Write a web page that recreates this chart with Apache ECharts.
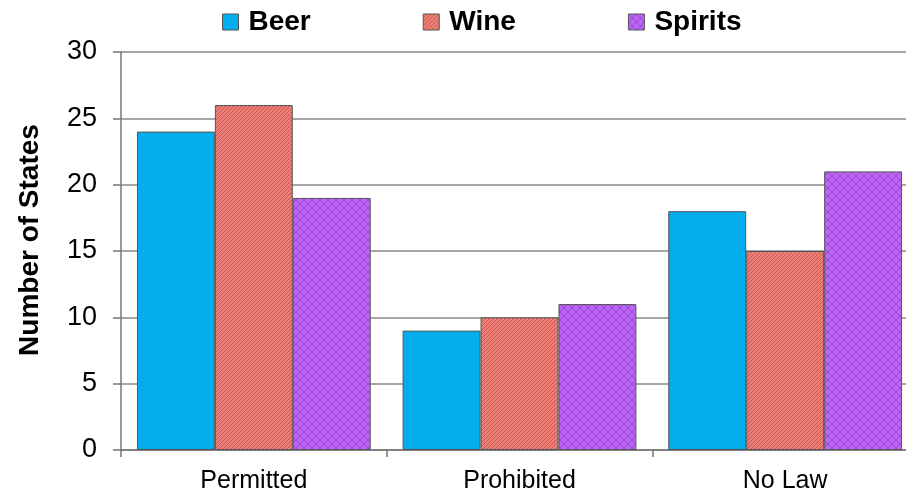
<!DOCTYPE html>
<html lang="en">
<head>
<meta charset="UTF-8">
<title>Number of States</title>
<script src="https://cdn.jsdelivr.net/npm/echarts@6/dist/echarts.min.js"></script>
<style>
  html, body { margin: 0; padding: 0; background: #fff; }
  #chart { width: 906px; height: 493px; }
</style>
</head>
<body>
<div id="chart"></div>
<script>
var categories = ['Permitted', 'Prohibited', 'No Law'];
var seriesNames = ['Beer', 'Wine', 'Spirits'];
var beer = [24, 9, 18];
var wine = [26, 10, 15];
var spirits = [19, 11, 21];
var yTicks = [0, 5, 10, 15, 20, 25, 30];

// small canvas tiles for the fill patterns
function makeTile(kind) {
    var c = document.createElement('canvas');
    var ctx = c.getContext('2d');
    if (kind == 'dots') {
        c.width = 4; c.height = 4;
        ctx.fillStyle = '#00b0f0';
        ctx.fillRect(0, 0, 4, 4);
        ctx.fillStyle = '#0aa0dc';
        ctx.fillRect(0, 0, 1, 1);
        ctx.fillRect(2, 2, 1, 1);
    } else if (kind == 'diag') {
        c.width = 4; c.height = 4;
        ctx.fillStyle = '#ec8078';
        ctx.fillRect(0, 0, 4, 4);
        ctx.fillStyle = '#c9574f';
        for (var i = 0; i < 4; i++) {
            ctx.fillRect(i, 3 - i, 1, 1);
        }
    } else {
        c.width = 8; c.height = 8;
        ctx.fillStyle = '#bb66f2';
        ctx.fillRect(0, 0, 8, 8);
        ctx.fillStyle = '#9c44d6';
        for (var j = 0; j < 8; j++) {
            ctx.fillRect(j, j, 1, 1);
            ctx.fillRect(j, 7 - j, 1, 1);
        }
    }
    return c;
}

var fills = [
    { image: makeTile('dots'), repeat: 'repeat' },
    { image: makeTile('diag'), repeat: 'repeat' },
    { image: makeTile('cross'), repeat: 'repeat' }
];
var values = [beer, wine, spirits];

var chart = echarts.init(document.getElementById('chart'));

var series = [];
for (var k = 0; k < seriesNames.length; k++) {
    series.push({
        name: seriesNames[k],
        type: 'bar',
        data: values[k],
        barGap: '0%',
        barCategoryGap: '12%',
        itemStyle: { color: fills[k], borderColor: '#555', borderWidth: 1 },
        emphasis: { disabled: true }
    });
}

chart.setOption({
    animation: false,
    legend: {
        data: seriesNames,
        left: 217,
        top: 3,
        itemWidth: 16,
        itemHeight: 16,
        itemGap: 112,
        icon: 'rect',
        textStyle: { fontFamily: 'Liberation Sans', fontWeight: 'bold', fontSize: 28, color: '#000', padding: [0, 0, 0, 5] },
        itemStyle: { borderColor: '#555', borderWidth: 1 }
    },
    grid: { left: 121, top: 52, width: 797, height: 398, outerBoundsMode: 'none', containLabel: false },
    xAxis: {
        type: 'category',
        data: categories,
        axisLine: { lineStyle: { color: '#777', width: 1.5 } },
        axisTick: { show: true, length: 7, lineStyle: { color: '#777', width: 1.5 } },
        axisLabel: { fontFamily: 'Liberation Sans', fontSize: 25, color: '#000', margin: 19 }
    },
    yAxis: {
        type: 'value',
        min: yTicks[0],
        max: yTicks[yTicks.length - 1],
        interval: 5,
        axisLine: { show: true, lineStyle: { color: '#777', width: 1.5 } },
        axisTick: { show: true, length: 8, lineStyle: { color: '#777', width: 1.5 } },
        axisLabel: { fontFamily: 'Liberation Sans', fontSize: 27, color: '#000', margin: 24 },
        splitLine: { lineStyle: { color: '#888', width: 1.5 } }
    },
    graphic: [{
        type: 'text',
        x: 30,
        y: 240,
        rotation: Math.PI / 2,
        style: {
            text: 'Number of States',
            fontFamily: 'Liberation Sans',
            fontWeight: 'bold',
            fontSize: 28,
            fill: '#000',
            textAlign: 'center',
            textVerticalAlign: 'middle'
        }
    }],
    series: series
});
</script>
</body>
</html>
